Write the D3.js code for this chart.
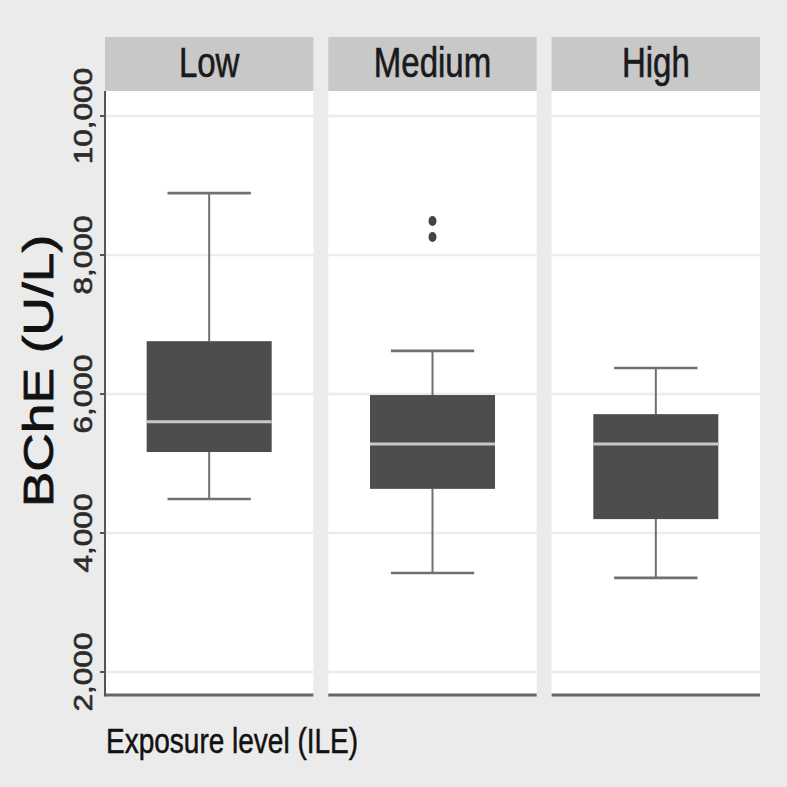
<!DOCTYPE html>
<html>
<head>
<meta charset="utf-8">
<script src="https://cdn.jsdelivr.net/npm/d3@7"></script>
<style>
  html, body { margin: 0; padding: 0; background: #ebebeb; }
  svg { display: block; }
  text { font-family: "Liberation Sans", Arial, sans-serif; }
</style>
</head>
<body>
<svg id="chart" width="787" height="787"></svg>
<script>
// ---- data ----
const categories = ["Low", "Medium", "High"];
const mins     = [4490, 3425, 3355];
const q1s      = [5165, 4635, 4200];
const medians  = [5600, 5280, 5280];
const q3s      = [6760, 5985, 5710];
const maxs     = [8890, 6620, 6375];
const outliers = [[], [8490, 8260], []];
const yTicks   = [2000, 4000, 6000, 8000, 10000];
const yTitle   = "BChE (U/L)";
const xTitle   = "Exposure level (ILE)";

// ---- layout ----
const W = 787, H = 787;
const panelTop = 91, panelBottom = 695, stripTop = 37;
const stretch = 1.27;

const svg = d3.select("#chart");
svg.append("rect").attr("width", W).attr("height", H).attr("fill", "#ebebeb");

const fx = d3.scaleBand().domain(categories).range([105, 760]).paddingInner(0.067).paddingOuter(0);
const y = d3.scaleLinear().domain([2000, 10000]).range([672, 116]);

const fmt = d3.format(",");

categories.forEach((cat, i) => {
  const x0 = fx(cat), bw = fx.bandwidth();
  const g = svg.append("g");
  // strip
  g.append("rect").attr("x", x0).attr("y", stripTop).attr("width", bw).attr("height", panelTop - stripTop).attr("fill", "#c8c8c8");
  g.append("text")
    .attr("transform", `translate(${x0 + bw / 2},77) scale(1,${stretch})`)
    .attr("text-anchor", "middle").attr("font-size", 33).attr("fill", "#1a1a1a")
    .attr("stroke", "#1a1a1a").attr("stroke-width", 0.5)
    .text(cat);
  // panel
  g.append("rect").attr("x", x0).attr("y", panelTop).attr("width", bw).attr("height", panelBottom - panelTop).attr("fill", "#ffffff");
  // grid
  g.selectAll("line.grid").data(yTicks).join("line")
    .attr("x1", x0).attr("x2", x0 + bw)
    .attr("y1", d => y(d)).attr("y2", d => y(d))
    .attr("stroke", "#ececec").attr("stroke-width", 2.5);

  const cx = x0 + bw / 2;
  const boxW = bw * 0.6, capW = bw * 0.4;
  // whiskers
  g.append("line").attr("x1", cx).attr("x2", cx).attr("y1", y(q3s[i])).attr("y2", y(maxs[i]))
    .attr("stroke", "#707070").attr("stroke-width", 2);
  g.append("line").attr("x1", cx).attr("x2", cx).attr("y1", y(q1s[i])).attr("y2", y(mins[i]))
    .attr("stroke", "#707070").attr("stroke-width", 2);
  g.append("line").attr("x1", cx - capW / 2).attr("x2", cx + capW / 2).attr("y1", y(maxs[i])).attr("y2", y(maxs[i]))
    .attr("stroke", "#707070").attr("stroke-width", 2.6);
  g.append("line").attr("x1", cx - capW / 2).attr("x2", cx + capW / 2).attr("y1", y(mins[i])).attr("y2", y(mins[i]))
    .attr("stroke", "#707070").attr("stroke-width", 2.6);
  // box
  g.append("rect").attr("x", cx - boxW / 2).attr("width", boxW)
    .attr("y", y(q3s[i])).attr("height", y(q1s[i]) - y(q3s[i]))
    .attr("fill", "#4d4d4d");
  // median
  g.append("line").attr("x1", cx - boxW / 2).attr("x2", cx + boxW / 2)
    .attr("y1", y(medians[i])).attr("y2", y(medians[i]))
    .attr("stroke", "#c8c8c8").attr("stroke-width", 3);
  // outliers
  g.selectAll("ellipse.out").data(outliers[i]).join("ellipse")
    .attr("cx", cx).attr("cy", d => y(d)).attr("rx", 4).attr("ry", 5)
    .attr("fill", "#444444");
  // bottom axis line
  g.append("line").attr("x1", x0).attr("x2", x0 + bw).attr("y1", panelBottom).attr("y2", panelBottom)
    .attr("stroke", "#666666").attr("stroke-width", 3);
});

// left axis on first panel
const xL = fx(categories[0]);
svg.append("line").attr("x1", xL).attr("x2", xL).attr("y1", panelTop).attr("y2", panelBottom + 1.5)
  .attr("stroke", "#555555").attr("stroke-width", 2);
const yAxisG = svg.append("g");
yAxisG.selectAll("line.tick").data(yTicks).join("line")
  .attr("x1", xL - 5).attr("x2", xL).attr("y1", d => y(d)).attr("y2", d => y(d))
  .attr("stroke", "#555555").attr("stroke-width", 2);
yAxisG.selectAll("text.tick").data(yTicks).join("text")
  .attr("transform", d => `translate(92,${y(d)}) rotate(-90) scale(1.26,1)`)
  .attr("text-anchor", "middle").attr("font-size", 25).attr("fill", "#2b2b2b")
  .attr("stroke", "#2b2b2b").attr("stroke-width", 0.6)
  .text(d => fmt(d));

// axis titles
svg.append("text")
  .attr("transform", `translate(53,371) rotate(-90) scale(1.24,1)`)
  .attr("text-anchor", "middle").attr("font-size", 43).attr("fill", "#111")
  .attr("stroke", "#111").attr("stroke-width", 0.8)
  .text(yTitle);
svg.append("text")
  .attr("transform", `translate(106,753) scale(1,${stretch})`)
  .attr("text-anchor", "start").attr("font-size", 28).attr("fill", "#111")
  .attr("stroke", "#111").attr("stroke-width", 0.4)
  .text(xTitle);
</script>
</body>
</html>
